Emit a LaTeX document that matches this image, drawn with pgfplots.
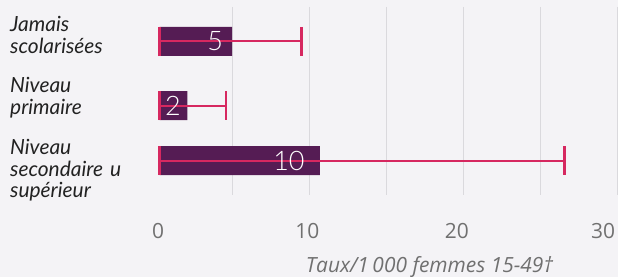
\documentclass[border=0pt]{standalone}
\usepackage{pgfplots}
\pgfplotsset{compat=1.18}
\usepackage{fontspec}
\setmainfont{Lato}
\newfontfamily\lightfont{Lato Light}
\newfontfamily\tickfont{Open Sans}
\definecolor{bg}{RGB}{244,243,246}
\definecolor{barc}{RGB}{85,28,84}
\definecolor{errc}{RGB}{214,40,96}
\definecolor{gridc}{RGB}{218,217,221}
\definecolor{tickc}{RGB}{112,112,112}
\definecolor{labc}{RGB}{34,34,34}
\begin{document}
\begin{tikzpicture}
\fill[bg] (0,0) rectangle (618bp,277bp);
\useasboundingbox (0,0) rectangle (618bp,277bp);
\begin{axis}[
  at={(155bp,82bp)}, anchor=south west,
  scale only axis, width=462bp, height=188bp,
  xmin=0, xmax=30, ymin=0, ymax=188, y dir=reverse,
  axis line style={draw=none}, major tick length=0pt,
  xtick={5,10,...,30}, xticklabels={},
  xmajorgrids=true, ymajorgrids=false,
  major grid style={gridc, line width=1bp},
  extra x ticks={0.2,9.9,19.6,29.1},
  extra x tick labels={0,10,20,30},
  extra x tick style={major grid style={draw=none}},
  xticklabel style={text=tickc, font=\tickfont\fontsize{21}{24}\selectfont, anchor=base, inner sep=0pt, yshift=-43bp},
  ytick={9.2,70.5,132.5},
  yticklabels={{Jamais\\scolarisées},{Niveau\\primaire},{Niveau\\secondaire u\\supérieur}},
  yticklabel style={anchor=north west, xshift=-145bp, text width=150bp, align=left, inner sep=0pt,
    font=\itshape\fontsize{21}{21.5}\selectfont, text=labc},
  clip=false,
]
\addplot[xbar stacked, bar width=29bp, fill=none, draw=none]
  coordinates {(0.3,34.5) (0.3,98.5) (0.3,153.5)};
\addplot[xbar stacked, bar width=29bp, fill=barc, draw=none]
  coordinates {(4.7,34.5) (1.8,98.5) (10.4,153.5)};
\addplot[draw=none, mark=none,
  error bars/.cd, x dir=both, x explicit, error mark=|,
  error bar style={draw=errc, line width=2bp},
  error mark options={draw=errc, line width=2.5bp, mark size=14.5bp}]
  coordinates {
    (5.0,34.5) += (4.5,0) -= (4.7,0)
    (2.1,98.5) += (2.5,0) -= (1.8,0)
    (10.7,153.5) += (15.9,0) -= (10.4,0)
  };
\addplot[draw=none, mark=none, nodes near coords, point meta=explicit symbolic,
  nodes near coords style={anchor=center, text=white, inner sep=0pt,
    font=\lightfont\fontsize{27}{27}\selectfont}]
  coordinates {(3.9,34.5)[5] (1.17,98.5)[2] (8.7,153.5)[10]};
\end{axis}
\node[font=\tickfont\itshape\fontsize{21}{24}\selectfont, text=tickc, anchor=base] at (429.5bp,5bp) {Taux/1\,000 femmes 15-49†};
\end{tikzpicture}
\end{document}
